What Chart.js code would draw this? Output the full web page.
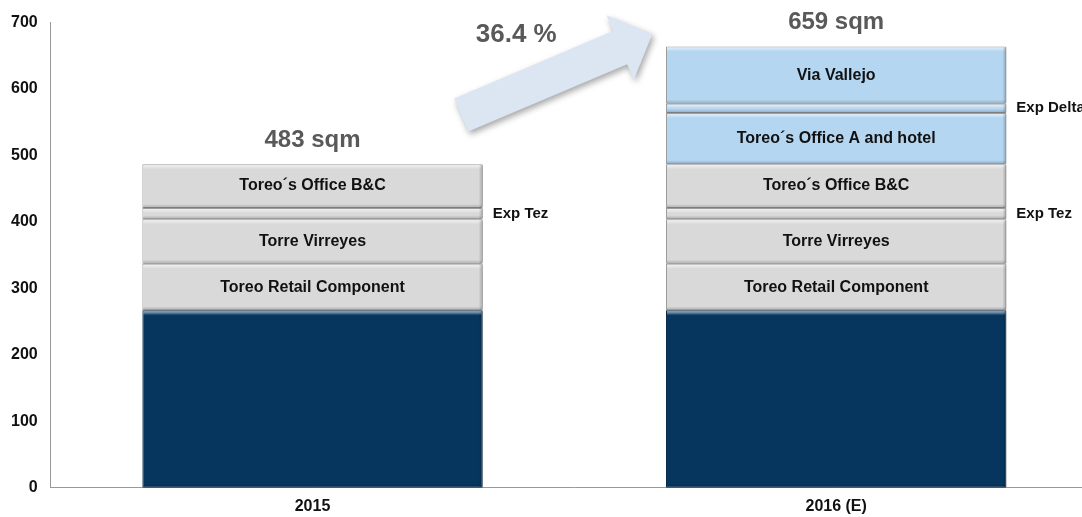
<!DOCTYPE html>
<html>
<head>
<meta charset="utf-8">
<script src="https://cdn.jsdelivr.net/npm/chart.js@4"></script>
<style>
  html, body { margin: 0; padding: 0; background: #fff; overflow: hidden; }
  #chart { display: block; }
</style>
</head>
<body>
<canvas id="chart" width="1100" height="517"></canvas>
<script>
// values (sqm, thousands)
const years = ['2015', '2016 (E)'];
const baseArea = [267, 267];
const retailComponent = [70, 70];
const torreVirreyes = [67, 67];
const expTez = [17, 17];
const officeBC = [66, 66];
const officeAHotel = [null, 77];
const expDelta = [null, 14];
const viaVallejo = [null, 86];
const totals = ['483 sqm', '659 sqm'];
const growthText = '36.4 %';
const yTicks = [0, 100, 200, 300, 400, 500, 600, 700];

const NAVY = '#06365e';
const GRAY = '#d9d9d9';
const BLUE = '#b5d6f1';
const FONT = '"Liberation Sans", Arial, sans-serif';

// inside = label centered in segment, side = label right of bar
const segments = [
  { data: baseArea, color: NAVY, label: '', where: null },
  { data: retailComponent, color: GRAY, label: 'Toreo Retail Component', where: 'inside' },
  { data: torreVirreyes, color: GRAY, label: 'Torre Virreyes', where: 'inside' },
  { data: expTez, color: GRAY, label: 'Exp Tez', where: 'side' },
  { data: officeBC, color: GRAY, label: 'Toreo\u00b4s Office B&C', where: 'inside' },
  { data: officeAHotel, color: BLUE, label: 'Toreo\u00b4s Office A and hotel', where: 'inside' },
  { data: expDelta, color: BLUE, label: 'Exp Delta', where: 'side' },
  { data: viaVallejo, color: BLUE, label: 'Via Vallejo', where: 'inside' }
];

// light top edge, dark bottom edge on every segment
const bevel = {
  id: 'bevel',
  afterDatasetsDraw(chart) {
    const ctx = chart.ctx;
    chart.data.datasets.forEach((ds, i) => {
      chart.getDatasetMeta(i).data.forEach((el, j) => {
        if (ds.data[j] == null) return;
        const left = el.x - el.width / 2, right = el.x + el.width / 2;
        const top = Math.min(el.y, el.base), bottom = Math.max(el.y, el.base);
        ctx.save();
        let g = ctx.createLinearGradient(0, top, 0, top + 5);
        g.addColorStop(0, 'rgba(255,255,255,0.75)');
        g.addColorStop(1, 'rgba(255,255,255,0)');
        ctx.fillStyle = g;
        ctx.fillRect(left + 1, top + 1, el.width - 2, 5);
        g = ctx.createLinearGradient(0, bottom - 4, 0, bottom);
        g.addColorStop(0, 'rgba(0,0,0,0)');
        g.addColorStop(1, 'rgba(0,0,0,0.22)');
        ctx.fillStyle = g;
        ctx.fillRect(left + 1, bottom - 4, el.width - 2, 4);
        g = ctx.createLinearGradient(right - 4, 0, right, 0);
        g.addColorStop(0, 'rgba(0,0,0,0)');
        g.addColorStop(1, 'rgba(0,0,0,0.25)');
        ctx.fillStyle = g;
        ctx.fillRect(right - 4, top + 1, 4, bottom - top - 2);
        ctx.restore();
      });
    });
  }
};

const segmentLabels = {
  id: 'segmentLabels',
  afterDatasetsDraw(chart) {
    const ctx = chart.ctx;
    ctx.save();
    ctx.fillStyle = '#111';
    ctx.textBaseline = 'middle';
    chart.data.datasets.forEach((ds, i) => {
      const seg = segments[i];
      if (!seg.where) return;
      chart.getDatasetMeta(i).data.forEach((el, j) => {
        if (ds.data[j] == null) return;
        const cy = (el.y + el.base) / 2;
        if (seg.where === 'inside') {
          ctx.font = 'bold 16px ' + FONT;
          ctx.textAlign = 'center';
          ctx.fillText(seg.label, el.x, cy);
        } else {
          ctx.font = 'bold 15px ' + FONT;
          ctx.textAlign = 'left';
          ctx.fillText(seg.label, el.x + el.width / 2 + 10, cy);
        }
      });
    });
    // totals above the top of each stack
    const last = chart.data.datasets.length - 1;
    ctx.font = 'bold 24px ' + FONT;
    ctx.fillStyle = '#595959';
    ctx.textAlign = 'center';
    totals.forEach((t, j) => {
      let topY = Infinity, x = 0;
      for (let i = 0; i <= last; i++) {
        const el = chart.getDatasetMeta(i).data[j];
        if (chart.data.datasets[i].data[j] == null) continue;
        topY = Math.min(topY, el.y);
        x = el.x;
      }
      ctx.fillText(t, x, topY - 24);
    });
    ctx.restore();
  }
};

const growthArrow = {
  id: 'growthArrow',
  afterDraw(chart) {
    const xs = chart.scales.x, ys = chart.scales.y, ctx = chart.ctx;
    // tail and tip anchored to the scales (between the two columns)
    const x0 = xs.getPixelForValue(0.284), y0 = ys.getPixelForValue(561);
    const x1 = xs.getPixelForValue(0.649), y1 = ys.getPixelForValue(683);
    const len = Math.hypot(x1 - x0, y1 - y0);
    const ang = Math.atan2(y1 - y0, x1 - x0);
    const shaft = 18, head = 35, headHalf = 35;
    ctx.save();
    ctx.translate(x0, y0);
    ctx.rotate(ang);
    ctx.shadowColor = 'rgba(0,0,0,0.35)';
    ctx.shadowBlur = 6;
    ctx.shadowOffsetX = 2;
    ctx.shadowOffsetY = 3;
    ctx.fillStyle = '#dce6f2';
    ctx.beginPath();
    ctx.moveTo(0, -shaft);
    ctx.lineTo(len - head, -shaft);
    ctx.lineTo(len - head, -headHalf);
    ctx.lineTo(len, 0);
    ctx.lineTo(len - head, headHalf);
    ctx.lineTo(len - head, shaft);
    ctx.lineTo(0, shaft);
    ctx.closePath();
    ctx.fill();
    ctx.restore();

    ctx.save();
    ctx.font = 'bold 26px ' + FONT;
    ctx.fillStyle = '#595959';
    ctx.textAlign = 'center';
    ctx.textBaseline = 'middle';
    ctx.fillText(growthText, xs.getPixelForValue(0.389), ys.getPixelForValue(682));
    ctx.restore();
  }
};

new Chart(document.getElementById('chart'), {
  type: 'bar',
  data: {
    labels: years,
    datasets: segments.map(s => ({
      label: s.label,
      data: s.data,
      backgroundColor: s.color,
      borderColor: s.color === NAVY ? '#0b2d4c' : '#9c9c9c',
      borderWidth: 1,
      borderSkipped: false,
      barPercentage: 0.65,
      categoryPercentage: 1
    }))
  },
  options: {
    responsive: false,
    animation: false,
    layout: { padding: { top: 22, left: -2, right: 2, bottom: -8 } },
    plugins: { legend: { display: false }, tooltip: { enabled: false } },
    scales: {
      x: {
        stacked: true,
        grid: { display: false, drawTicks: false },
        border: { display: true, color: '#999', width: 1 },
        ticks: { color: '#111', font: { family: FONT, size: 16, weight: 'bold' }, padding: 9 }
      },
      y: {
        stacked: true,
        min: 0,
        max: 700,
        afterBuildTicks(axis) { axis.ticks = yTicks.map(v => ({ value: v })); },
        grid: { display: false, drawTicks: false },
        border: { display: true, color: '#999', width: 1 },
        ticks: { color: '#111', font: { family: FONT, size: 16, weight: 'bold' }, padding: 13 }
      }
    }
  },
  plugins: [bevel, segmentLabels, growthArrow]
});
</script>
</body>
</html>
